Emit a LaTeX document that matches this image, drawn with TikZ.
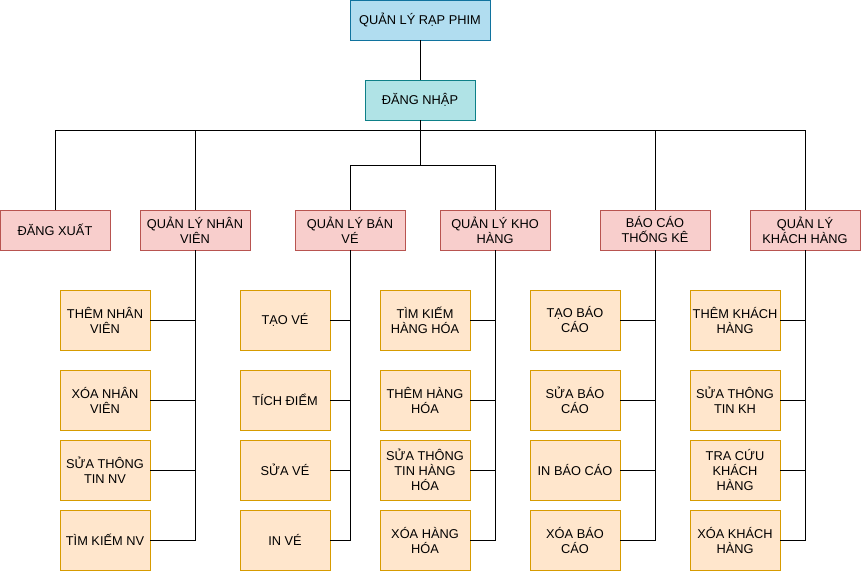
\documentclass[tikz,border=0pt]{standalone}
\usepackage{fontspec}
\setmainfont{Liberation Sans}
\definecolor{topfill}{HTML}{B1DDF0}
\definecolor{topline}{HTML}{10739E}
\definecolor{logfill}{HTML}{B0E3E6}
\definecolor{logline}{HTML}{0E8088}
\definecolor{redfill}{HTML}{F8CECC}
\definecolor{redline}{HTML}{B85450}
\definecolor{orfill}{HTML}{FFE6CC}
\definecolor{orline}{HTML}{D79B00}
\begin{document}
\begin{tikzpicture}[x=1pt,y=-1pt,
  every node/.style={inner sep=0pt, align=center, font=\fontsize{12.8}{15}\selectfont, text=black},
  topbox/.style={draw=topline, fill=topfill, line width=0.8pt, minimum width=140pt, minimum height=40pt},
  logbox/.style={draw=logline, fill=logfill, line width=0.8pt, minimum width=110pt, minimum height=40pt},
  modbox/.style={draw=redline, fill=redfill, line width=0.8pt, minimum width=110pt, minimum height=40pt},
  funbox/.style={draw=orline, fill=orfill, line width=0.8pt, minimum width=90pt, minimum height=60pt},
  conn/.style={draw=black, line width=0.8pt}]
\useasboundingbox (0,0) rectangle (861,571);

\node[topbox] (top) at (420,20) {QUẢN LÝ RẠP PHIM};
\node[logbox] (login) at (420,100) {ĐĂNG NHẬP};

\node[modbox] (dx) at (55,230) {ĐĂNG XUẤT};
\node[modbox] (nv) at (195,230) {QUẢN LÝ NHÂN\\VIÊN};
\node[modbox] (bv) at (350,230) {QUẢN LÝ BÁN\\VÉ};
\node[modbox] (kho) at (495,230) {QUẢN LÝ KHO\\HÀNG};
\node[modbox] (bc) at (655,230) {BÁO CÁO\\THỐNG KÊ};
\node[modbox] (kh) at (805,230) {QUẢN LÝ\\KHÁCH HÀNG};

% column 1
\node[funbox] (nv1) at (105,320) {THÊM NHÂN\\VIÊN};
\node[funbox] (nv2) at (105,400) {XÓA NHÂN\\VIÊN};
\node[funbox] (nv3) at (105,470) {SỬA THÔNG\\TIN NV};
\node[funbox] (nv4) at (105,540) {TÌM KIẾM NV};
% column 2
\node[funbox] (bv1) at (285,320) {TẠO VÉ};
\node[funbox] (bv2) at (285,400) {TÍCH ĐIỂM};
\node[funbox] (bv3) at (285,470) {SỬA VÉ};
\node[funbox] (bv4) at (285,540) {IN VÉ};
% column 3
\node[funbox] (kho1) at (425,320) {TÌM KIẾM\\HÀNG HÓA};
\node[funbox] (kho2) at (425,400) {THÊM HÀNG\\HÓA};
\node[funbox] (kho3) at (425,470) {SỬA THÔNG\\TIN HÀNG\\HÓA};
\node[funbox] (kho4) at (425,540) {XÓA HÀNG\\HÓA};
% column 4
\node[funbox] (bc1) at (575,320) {TẠO BÁO\\CÁO};
\node[funbox] (bc2) at (575,400) {SỬA BÁO\\CÁO};
\node[funbox] (bc3) at (575,470) {IN BÁO CÁO};
\node[funbox] (bc4) at (575,540) {XÓA BÁO\\CÁO};
% column 5
\node[funbox] (kh1) at (735,320) {THÊM KHÁCH\\HÀNG};
\node[funbox] (kh2) at (735,400) {SỬA THÔNG\\TIN KH};
\node[funbox] (kh3) at (735,470) {TRA CỨU\\KHÁCH\\HÀNG};
\node[funbox] (kh4) at (735,540) {XÓA KHÁCH\\HÀNG};

% connectors
\draw[conn] (top) -- (login);
\draw[conn] (login.south) -- ++(0,10) -| (dx.north);
\draw[conn] (login.south) -- ++(0,10) -| (nv.north);
\draw[conn] (login.south) -- ++(0,10) -| (bc.north);
\draw[conn] (login.south) -- ++(0,10) -| (kh.north);
\draw[conn] (login.south) -- ++(0,45) -| (bv.north);
\draw[conn] (login.south) -- ++(0,45) -| (kho.north);

\foreach \p in {nv,bv,kho,bc,kh}{
  \foreach \i in {1,2,3,4}{
    \draw[conn] (\p\i.east) -| (\p.south);
  }
}
\end{tikzpicture}
\end{document}
